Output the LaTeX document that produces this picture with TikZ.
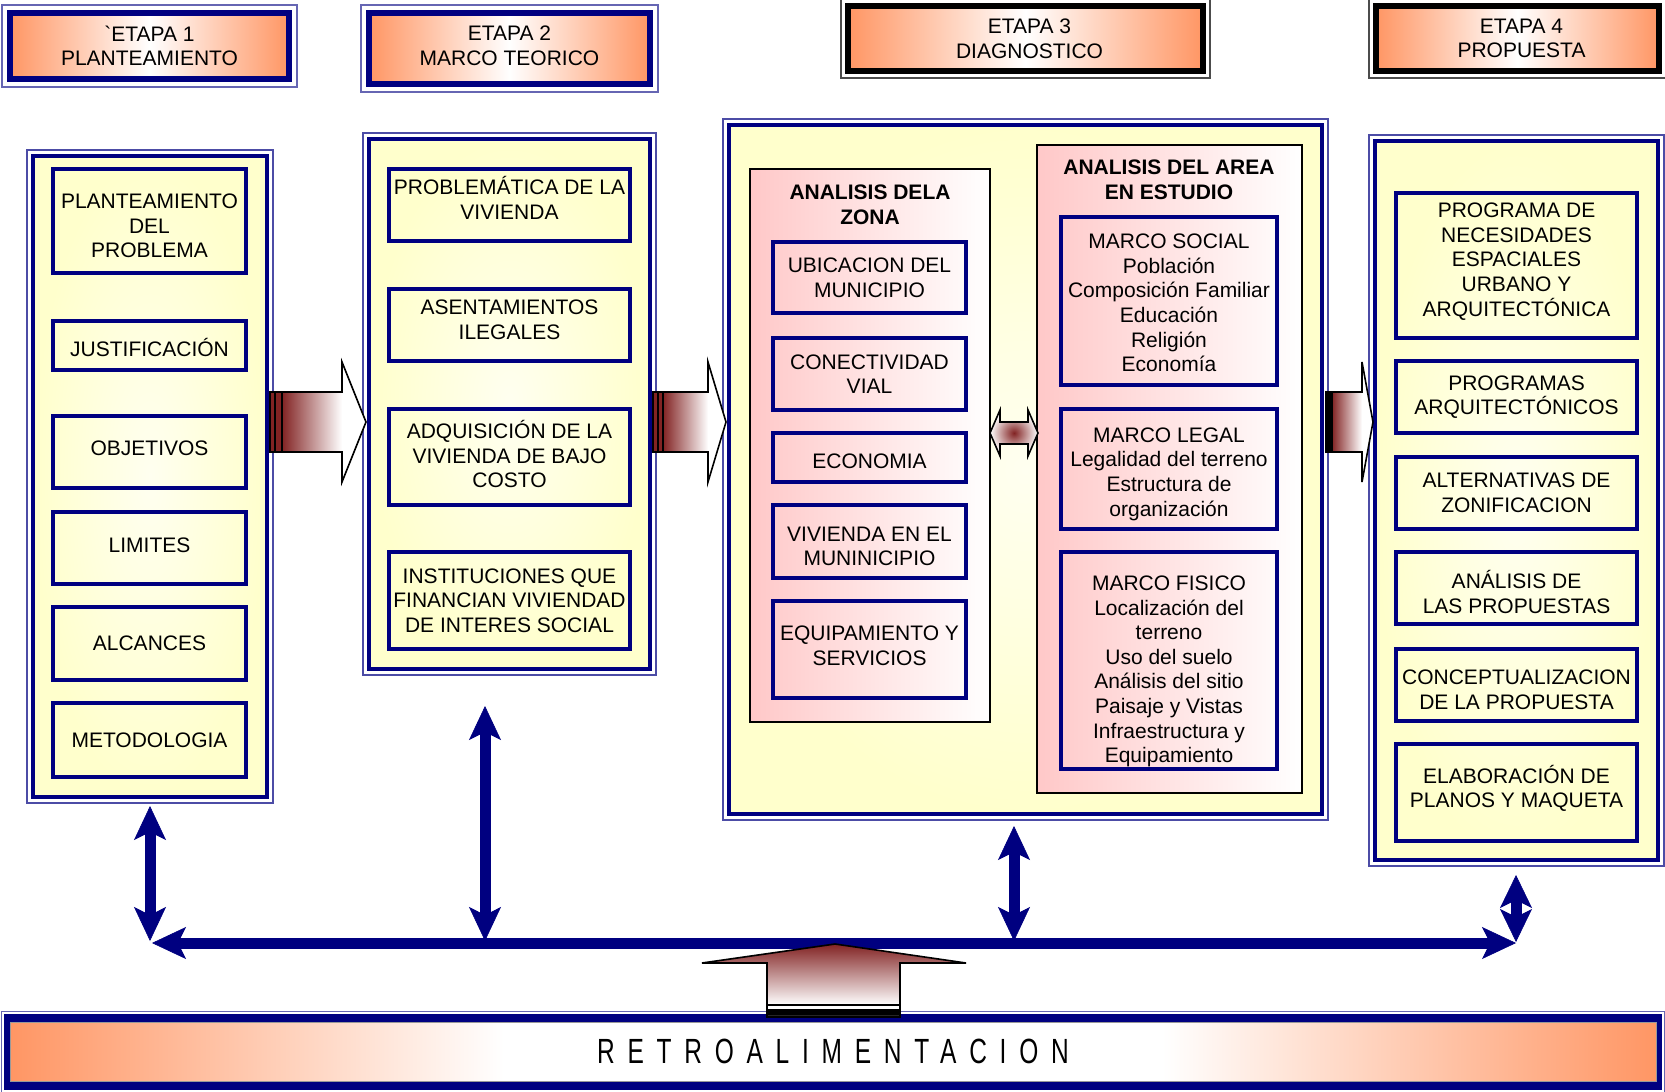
\documentclass[tikz,border=0pt]{standalone}
\usepackage{fontspec}
\usepackage{graphicx}
\setmainfont{Liberation Sans}
\newfontfamily\lsans{Liberation Sans}
\usetikzlibrary{fit,arrows.meta}
\definecolor{navyc}{RGB}{0,0,128}
\definecolor{orng}{RGB}{255,150,100}
\definecolor{cyel}{RGB}{255,255,204}
\definecolor{cyelc}{RGB}{255,255,240}
\definecolor{pinkc}{RGB}{255,200,200}
\definecolor{arrowred}{RGB}{130,35,35}
\pgfdeclarehorizontalshading{orband}{100bp}{color(0bp)=(orng); color(25bp)=(orng); color(40bp)=(white); color(60bp)=(white); color(75bp)=(orng); color(100bp)=(orng)}
\tikzset{
  txt/.style={font=\lsans\fontsize{10.5}{12.3}\selectfont, align=center, inner sep=0pt},
  ttl/.style={font=\lsans\bfseries\fontsize{10.5}{12.3}\selectfont, align=center, inner sep=0pt},
  ibox/.style={draw=navyc, line width=1.6pt, inner sep=0pt},
  cont/.style={draw=navyc, line width=2pt, inner sep=0pt, inner color=cyelc, outer color=cyel},
  hdrA/.style={inner sep=0pt, draw=navyc, line width=3pt, left color=orng, right color=orng, middle color=white},
  hdrB/.style={inner sep=0pt, draw=black, line width=3pt, left color=orng, right color=orng, middle color=white},
  panel/.style={draw=black, line width=0.9pt, inner sep=0pt, left color=pinkc, right color=white},
  navarr/.style={draw=navyc, line width=5.5pt,
    arrows={Stealth[length=17pt,width=16pt,inset=4pt,line width=0.3pt]-Stealth[length=17pt,width=16pt,inset=4pt,line width=0.3pt]}},
  navarrs/.style={draw=navyc, line width=5.5pt,
    arrows={Stealth[length=16.5pt,width=16pt,inset=4pt,line width=0.3pt]-Stealth[length=16.5pt,width=16pt,inset=4pt,line width=0.3pt]}},
  blk/.style={draw=black, line width=0.8pt, line join=miter}
}
\newcommand\outerframe[3]{\draw[#3, line width=0.6pt] ([shift={(-#2,-#2)}]#1.north west) rectangle ([shift={(#2,#2)}]#1.south east);}
\newcommand\ibx[7][0]{%
  \node[ibox, fit={(#3,#4) (#5,#6)}] (#2) {};
  \node[txt] (#2t) at ([shift={(0,#1)}]#2.center) {#7};}
\begin{document}
\begin{tikzpicture}[x=0.5pt,y=-0.5pt]
\useasboundingbox (0,0) rectangle (1665,1092);
\fill[white] (0,0) rectangle (1665,1092);

% ---------- headers ----------
\node[hdrA, fit={(10,13) (289,79)}] (h1) {};
\outerframe{h1}{5}{navyc!60}
\node[txt] (h1t) at (h1.center) {`ETAPA 1\\PLANTEAMIENTO};
\node[hdrA, fit={(369,13) (650,84)}] (h2) {};
\outerframe{h2}{5}{navyc!60}
\node[txt] (h2t) at ([shift={(0,-3)}]h2.center) {ETAPA 2\\MARCO TEORICO};
\node[hdrB, fit={(848,6) (1203,71)}] (h3) {};
\outerframe{h3}{4}{black!70}
\node[txt] (h3t) at ([shift={(4,0)}]h3.center) {ETAPA 3\\DIAGNOSTICO};
\node[hdrB, fit={(1376,6) (1659,71)}] (h4) {};
\outerframe{h4}{4}{black!70}
\node[txt] (h4t) at ([shift={(4,0)}]h4.center) {ETAPA 4\\PROPUESTA};

% ---------- containers ----------
\node[cont, fit={(33,156) (267,797)}] (c1) {};
\outerframe{c1}{4}{navyc!70}
\node[cont, fit={(369,139) (650,669)}] (c2) {};
\outerframe{c2}{4}{navyc!70}
\node[cont, fit={(729,125) (1322,814)}] (c3) {};
\outerframe{c3}{4}{navyc!70}
\node[cont, fit={(1375,141) (1658,860)}] (c4) {};
\outerframe{c4}{4}{navyc!70}

% ---------- panels of etapa 3 ----------
\node[panel, fit={(750,169) (990,722)}] (pz) {};
\node[panel, fit={(1037,145) (1302,793)}] (pa) {};
\node[ttl] (pzt) at (870,205) {ANALISIS DELA\\ZONA};
\node[ttl] (pat) at (1169,180) {ANALISIS DEL AREA\\EN ESTUDIO};

% ---------- etapa 1 boxes ----------
\ibx[5]{p1}{53}{169}{246}{273}{PLANTEAMIENTO\\DEL\\PROBLEMA}
\ibx[2]{p2}{53}{321}{246}{370}{JUSTIFICACIÓN}
\ibx[-4]{p3}{53}{416}{246}{488}{OBJETIVOS}
\ibx[-3]{p4}{53}{512}{246}{584}{LIMITES}
\ibx{p5}{53}{607}{246}{680}{ALCANCES}
\ibx{p6}{53}{703}{246}{777}{METODOLOGIA}

% ---------- etapa 2 boxes ----------
\ibx[-7]{m1}{389}{169}{630}{241}{PROBLEMÁTICA DE LA\\VIVIENDA}
\ibx[-5]{m2}{389}{289}{630}{361}{ASENTAMIENTOS\\ILEGALES}
\ibx[-3]{m3}{389}{409}{630}{505}{ADQUISICIÓN DE LA\\VIVIENDA DE BAJO\\COSTO}
\ibx{m4}{389}{552}{630}{649}{INSTITUCIONES QUE\\FINANCIAN VIVIENDAD\\DE INTERES SOCIAL}

% ---------- etapa 3 boxes ----------
\ibx{z1}{773}{242}{966}{313}{UBICACION DEL\\MUNICIPIO}
\ibx{z2}{773}{338}{966}{410}{CONECTIVIDAD\\VIAL}
\ibx[4]{z3}{773}{433}{966}{482}{ECONOMIA}
\ibx[5]{z4}{773}{505}{966}{578}{VIVIENDA EN EL\\MUNINICIPIO}
\ibx[-4]{z5}{773}{601}{966}{698}{EQUIPAMIENTO Y\\SERVICIOS}
\ibx[2]{a1}{1061}{217}{1277}{385}{MARCO SOCIAL\\Población\\Composición Familiar\\Educación\\Religión\\Economía}
\ibx[5]{a2}{1061}{409}{1277}{529}{MARCO LEGAL\\Legalidad del terreno\\Estructura de\\organización}
\ibx[11]{a3}{1061}{552}{1277}{769}{MARCO FISICO\\Localización del\\terreno\\Uso del suelo\\Análisis del sitio\\Paisaje y Vistas\\Infraestructura y\\Equipamiento}

% ---------- etapa 4 boxes ----------
\ibx[-4]{q1}{1396}{193}{1637}{338}{PROGRAMA DE\\NECESIDADES\\ESPACIALES\\URBANO Y\\ARQUITECTÓNICA}
\ibx{q2}{1396}{361}{1637}{433}{PROGRAMAS\\ARQUITECTÓNICOS}
\ibx{q3}{1396}{457}{1637}{529}{ALTERNATIVAS DE\\ZONIFICACION}
\ibx[4]{q4}{1396}{552}{1637}{624}{ANÁLISIS DE\\LAS PROPUESTAS}
\ibx[5]{q5}{1396}{649}{1637}{721}{CONCEPTUALIZACION\\DE LA PROPUESTA}
\ibx[-4]{q6}{1396}{744}{1637}{841}{ELABORACIÓN DE\\PLANOS Y MAQUETA}

% ---------- block arrows between stages ----------
% arrow 1
\fill[left color=arrowred, right color=white] (282,392) rectangle (342,452);
\fill[white] (342,362) -- (366,422) -- (342,482) -- cycle;
\draw[blk] (282,392) -- (342,392) -- (342,362) -- (366,422) -- (342,482) -- (342,452) -- (282,452) -- cycle;
\draw[blk, fill=arrowred, line width=0.6pt] (270,392) rectangle (275,452) (275,392) rectangle (282,452);
% arrow 2
\fill[left color=arrowred, right color=white] (663,392) rectangle (708,452);
\fill[white] (708,362) -- (726,422) -- (708,482) -- cycle;
\draw[blk] (663,392) -- (708,392) -- (708,362) -- (726,422) -- (708,482) -- (708,452) -- (663,452) -- cycle;
\draw[blk, fill=arrowred, line width=0.6pt] (653,392) rectangle (658,452) (658,392) rectangle (663,452);
% arrow 3
\fill[left color=arrowred, right color=white] (1332,392) rectangle (1362,452);
\fill[white] (1362,362) -- (1373,422) -- (1362,482) -- cycle;
\draw[blk] (1332,392) -- (1362,392) -- (1362,362) -- (1373,422) -- (1362,482) -- (1362,452) -- (1332,452) -- cycle;
\draw[blk, fill=black, line width=0.6pt] (1326,392) rectangle (1330,452);
\draw[blk, fill=arrowred, line width=0.6pt] (1330,392) rectangle (1332,452);
% double arrow inside etapa 3
\draw[blk, inner color=arrowred, outer color=white]
  (990,433) -- (1000,410) -- (1000,422) -- (1028,422) -- (1028,410) -- (1038,433)
  -- (1028,456) -- (1028,444) -- (1000,444) -- (1000,456) -- cycle;

% ---------- navy feedback connectors ----------
\coordinate (v1t) at (150,806);
\coordinate (v1b) at (150,941);
\coordinate (v2t) at (485,706);
\coordinate (v2b) at (485,941);
\coordinate (v3t) at (1014,826);
\coordinate (v3b) at (1014,941);
\coordinate (v4t) at (1516,875);
\coordinate (v4b) at (1516,942);
\coordinate (hl) at (152,943);
\coordinate (hr) at (1516,943);
\draw[navarr] (hl) -- (hr);
\draw[navarr] (v1t) -- (v1b);
\draw[navarr] (v2t) -- (v2b);
\draw[navarr] (v3t) -- (v3b);
\draw[navarrs] (v4t) -- (v4b);

% ---------- retroalimentacion bar ----------
\node[fill=navyc, inner sep=0pt, fit={(4,1014) (1662,1090)}] (rb) {};
\outerframe{rb}{2}{navyc!60}
\node[inner sep=0pt, shading=orband, draw=black!40, line width=0.4pt, fit={(10,1022) (1656,1081)}] (rt) {};
\node[txt] (rtt) at (833,1051) {\fontsize{17.5}{19}\selectfont\scalebox{0.7}[1]{\addfontfeature{LetterSpace=52}RETROALIMENTACION}};

% ---------- upward feedback arrow ----------
\draw[blk, top color=arrowred, bottom color=white]
  (835,944) -- (966,963) -- (900,963) -- (900,1005) -- (767,1005) -- (767,963) -- (702,963) -- cycle;
\draw[blk, fill=white, line width=0.6pt] (767,1005) rectangle (900,1010);
\draw[blk, fill=black!85, line width=0.6pt] (767,1010) rectangle (900,1012);
\draw[blk, fill=white, line width=0.6pt] (767,1012) rectangle (900,1014);
\draw[blk, fill=black!85, line width=0.6pt] (767,1014) rectangle (900,1017);
\end{tikzpicture}
\end{document}
